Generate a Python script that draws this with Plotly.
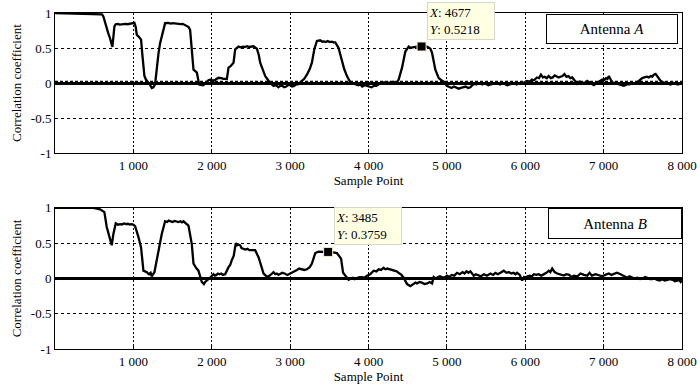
import plotly.graph_objects as go
from plotly.subplots import make_subplots

# ---- data ----
antenna_a = [(0,1.00),(490,0.99),(540,0.98),(600,0.98),(617,0.95),(640,0.86),(660,0.76),(680,0.71),(702,0.64),(720,0.58),(732,0.515),(745,0.66),(758,0.81),(775,0.84),(800,0.845),(825,0.835),(850,0.84),(875,0.85),(900,0.845),(925,0.84),(950,0.845),(979,0.85),(1013,0.86),(1030,0.80),(1043,0.69),(1070,0.66),(1098,0.62),(1115,0.40),(1141,0.10),(1160,0.05),(1192,0.01),(1215,-0.03),(1235,-0.07),(1255,-0.06),(1277,-0.02),(1299,0.24),(1320,0.42),(1341,0.57),(1371,0.71),(1405,0.855),(1450,0.86),(1475,0.85),(1500,0.855),(1533,0.85),(1555,0.845),(1580,0.85),(1605,0.84),(1630,0.845),(1660,0.83),(1682,0.82),(1705,0.80),(1724,0.76),(1746,0.48),(1767,0.19),(1790,0.17),(1810,0.15),(1839,-0.02),(1865,-0.03),(1890,-0.03),(1925,0.00),(1958,0.04),(1990,0.05),(2022,0.03),(2050,0.05),(2086,0.075),(2120,0.07),(2150,0.06),(2193,0.06),(2214,0.22),(2240,0.24),(2278,0.29),(2299,0.48),(2342,0.52),(2370,0.51),(2400,0.52),(2425,0.515),(2450,0.525),(2475,0.515),(2500,0.52),(2533,0.525),(2576,0.49),(2600,0.40),(2618,0.29),(2650,0.20),(2682,0.10),(2720,0.04),(2746,0.00),(2788,-0.04),(2820,-0.03),(2850,-0.06),(2875,-0.04),(2900,-0.04),(2925,-0.06),(2950,-0.05),(2975,-0.03),(3000,-0.03),(3025,-0.05),(3050,-0.04),(3075,-0.02),(3100,-0.02),(3150,0.03),(3180,0.06),(3214,0.12),(3250,0.20),(3278,0.29),(3308,0.48),(3342,0.60),(3384,0.61),(3410,0.59),(3430,0.595),(3455,0.585),(3480,0.60),(3505,0.585),(3530,0.59),(3555,0.58),(3576,0.58),(3618,0.50),(3661,0.31),(3690,0.20),(3725,0.10),(3768,0.01),(3795,0.00),(3820,-0.01),(3845,-0.02),(3870,-0.03),(3895,-0.02),(3920,-0.05),(3950,-0.03),(3980,-0.04),(4010,-0.05),(4040,-0.06),(4070,-0.04),(4100,-0.04),(4125,-0.02),(4150,0.00),(4175,-0.01),(4200,0.01),(4230,0.00),(4260,0.00),(4290,0.01),(4320,0.02),(4345,0.00),(4365,0.01),(4385,0.05),(4428,0.22),(4470,0.45),(4513,0.52),(4540,0.50),(4560,0.51),(4590,0.52),(4620,0.52),(4677,0.5218),(4715,0.515),(4747,0.52),(4790,0.49),(4811,0.43),(4853,0.19),(4896,0.07),(4930,0.04),(4959,0.02),(5000,-0.04),(5030,-0.05),(5060,-0.07),(5090,-0.05),(5120,-0.06),(5150,-0.08),(5180,-0.07),(5210,-0.06),(5240,-0.05),(5270,-0.07),(5300,-0.06),(5325,-0.03),(5350,-0.01),(5375,-0.02),(5400,0.00),(5425,-0.01),(5450,-0.02),(5475,0.00),(5500,-0.01),(5530,-0.03),(5560,-0.02),(5590,-0.01),(5620,0.00),(5650,-0.01),(5680,-0.02),(5710,0.00),(5740,-0.01),(5770,-0.03),(5800,-0.02),(5830,-0.01),(5860,0.00),(5890,-0.02),(5920,-0.01),(5950,0.01),(5980,0.00),(6020,0.03),(6060,0.02),(6085,0.05),(6110,0.04),(6130,0.06),(6150,0.08),(6175,0.07),(6200,0.12),(6225,0.08),(6250,0.09),(6275,0.07),(6300,0.10),(6325,0.07),(6350,0.08),(6375,0.11),(6400,0.10),(6425,0.08),(6450,0.09),(6475,0.10),(6500,0.13),(6525,0.09),(6550,0.10),(6575,0.07),(6600,0.08),(6640,0.03),(6662,-0.01),(6690,0.02),(6720,0.01),(6755,0.00),(6790,0.03),(6815,0.01),(6840,-0.01),(6875,-0.03),(6900,-0.01),(6930,0.01),(6955,0.03),(6982,0.05),(7005,0.04),(7030,0.07),(7050,0.06),(7067,0.10),(7090,0.05),(7110,0.01),(7145,0.00),(7180,-0.01),(7220,-0.02),(7258,-0.04),(7295,-0.02),(7330,-0.02),(7370,0.00),(7407,0.00),(7450,0.03),(7470,0.05),(7492,0.07),(7520,0.08),(7550,0.09),(7575,0.08),(7599,0.10),(7620,0.09),(7640,0.12),(7663,0.13),(7680,0.10),(7700,0.08),(7727,0.03),(7760,0.01),(7790,0.00),(7820,-0.01),(7855,-0.02),(7890,0.00),(7920,-0.01),(7950,-0.02),(7983,0.00),(8000,-0.01)]

antenna_b = [(0,1.00),(490,1.00),(575,0.98),(630,0.94),(660,0.73),(694,0.61),(724,0.47),(745,0.63),(775,0.78),(805,0.76),(830,0.77),(855,0.765),(880,0.78),(905,0.77),(930,0.775),(955,0.765),(979,0.77),(1000,0.76),(1022,0.74),(1064,0.59),(1098,0.44),(1128,0.11),(1150,0.10),(1171,0.09),(1185,0.07),(1200,0.06),(1220,0.08),(1235,0.03),(1269,0.09),(1300,0.28),(1320,0.40),(1362,0.63),(1405,0.81),(1430,0.80),(1450,0.82),(1475,0.81),(1500,0.80),(1525,0.815),(1550,0.81),(1575,0.80),(1600,0.81),(1620,0.795),(1639,0.81),(1670,0.78),(1703,0.75),(1745,0.49),(1767,0.21),(1800,0.15),(1830,0.11),(1873,-0.05),(1900,-0.08),(1916,-0.05),(1950,-0.02),(1979,0.01),(2022,0.06),(2040,0.04),(2060,0.05),(2080,0.07),(2100,0.06),(2120,0.07),(2140,0.05),(2171,0.06),(2214,0.16),(2235,0.19),(2256,0.26),(2280,0.32),(2307,0.50),(2325,0.47),(2340,0.48),(2363,0.47),(2380,0.43),(2400,0.42),(2427,0.41),(2455,0.42),(2480,0.40),(2520,0.40),(2554,0.40),(2597,0.30),(2630,0.18),(2661,0.07),(2700,0.03),(2724,0.03),(2760,0.06),(2788,0.09),(2810,0.06),(2830,0.07),(2850,0.05),(2873,0.06),(2900,0.08),(2930,0.07),(2965,0.05),(3001,0.07),(3044,0.09),(3065,0.11),(3087,0.12),(3115,0.14),(3150,0.13),(3180,0.12),(3214,0.13),(3250,0.16),(3278,0.21),(3321,0.36),(3363,0.38),(3420,0.38),(3485,0.3759),(3550,0.37),(3597,0.36),(3650,0.28),(3676,0.08),(3710,0.03),(3746,-0.02),(3775,0.00),(3800,0.01),(3825,-0.01),(3853,0.00),(3885,0.02),(3920,0.02),(3950,0.01),(3981,0.04),(4020,0.06),(4066,0.11),(4100,0.10),(4130,0.13),(4160,0.12),(4193,0.15),(4215,0.13),(4240,0.14),(4278,0.13),(4305,0.12),(4330,0.11),(4360,0.10),(4385,0.08),(4420,0.05),(4449,0.01),(4492,-0.08),(4534,-0.11),(4555,-0.09),(4580,-0.08),(4600,-0.06),(4619,-0.07),(4650,-0.05),(4680,-0.06),(4715,-0.08),(4750,-0.07),(4780,-0.05),(4811,-0.07),(4832,0.02),(4855,0.00),(4880,0.01),(4910,0.03),(4938,0.02),(4970,0.01),(5002,0.04),(5030,0.02),(5060,0.05),(5095,0.04),(5130,0.08),(5165,0.06),(5200,0.09),(5225,0.07),(5250,0.10),(5275,0.08),(5300,0.10),(5320,0.07),(5343,0.04),(5370,0.06),(5400,0.05),(5435,0.03),(5470,0.06),(5510,0.04),(5556,0.07),(5590,0.05),(5620,0.08),(5650,0.06),(5683,0.08),(5705,0.10),(5726,0.11),(5760,0.08),(5790,0.09),(5820,0.07),(5850,0.08),(5875,0.06),(5896,0.08),(5930,0.05),(5960,-0.03),(5985,0.02),(6003,0.01),(6030,0.03),(6060,0.04),(6085,0.03),(6110,0.06),(6140,0.05),(6170,0.06),(6205,0.04),(6238,0.06),(6270,0.08),(6300,0.11),(6320,0.09),(6344,0.14),(6375,0.09),(6408,0.07),(6450,0.05),(6493,0.04),(6525,0.06),(6560,0.05),(6590,0.02),(6621,0.04),(6665,0.03),(6706,0.07),(6750,0.05),(6791,0.04),(6820,0.08),(6850,0.04),(6897,0.06),(6940,0.04),(6982,0.03),(7020,0.05),(7067,0.07),(7100,0.05),(7131,0.06),(7170,0.08),(7216,0.06),(7260,0.04),(7301,0.01),(7330,0.03),(7360,0.02),(7395,0.00),(7429,0.01),(7465,-0.01),(7500,0.00),(7530,0.02),(7556,0.01),(7590,-0.01),(7620,-0.01),(7650,0.00),(7684,-0.02),(7715,-0.03),(7750,-0.01),(7780,-0.03),(7812,-0.02),(7845,-0.01),(7880,-0.02),(7910,-0.04),(7939,-0.03),(7965,-0.02),(7983,-0.05),(8000,-0.03)]

marker_a = (4677, 0.5218)
marker_b = (3485, 0.3759)
x_ticks = [1000, 2000, 3000, 4000, 5000, 6000, 7000, 8000]
x_tick_labels = ["1 000", "2 000", "3 000", "4 000", "5 000", "6 000", "7 000", "8 000"]
y_ticks = [-1, -0.5, 0, 0.5, 1]
y_tick_labels = ["-1", "-0.5", "0", "0.5", "1"]
panel_labels = ["Antenna <i>A</i>", "Antenna <i>B</i>"]

FONT = "Liberation Serif"

fig = make_subplots(rows=2, cols=1, vertical_spacing=0.163)

for row, (series, mk) in enumerate([(antenna_a, marker_a), (antenna_b, marker_b)], start=1):
    xs = [p[0] for p in series]
    ys = [p[1] for p in series]
    fig.add_trace(go.Scatter(x=xs, y=ys, mode="lines",
                             line=dict(color="black", width=2.3), showlegend=False),
                  row=row, col=1)
    fig.add_trace(go.Scatter(x=[mk[0]], y=[mk[1]], mode="markers",
                             marker=dict(symbol="square", size=9, color="black",
                                         line=dict(color="#f4f0c8", width=1)),
                             showlegend=False), row=row, col=1)

fig.update_layout(
    width=700, height=388,
    margin=dict(l=55, r=18, t=13, b=39),
    paper_bgcolor="white", plot_bgcolor="white",
    font=dict(family=FONT, size=13, color="black"),
    showlegend=False,
)
fig.update_yaxes(domain=[0.583, 1.0], row=1, col=1)
fig.update_yaxes(domain=[0.0, 0.42], row=2, col=1)

fig.update_xaxes(range=[0, 8000], tickvals=x_ticks, ticktext=x_tick_labels,
                 showgrid=True, gridcolor="black", gridwidth=1, griddash="2px,2px",
                 showline=True, mirror=True, linecolor="black", linewidth=1,
                 ticks="inside", ticklen=3, tickcolor="black", zeroline=False,
                 automargin=False,
                 tickfont=dict(size=13, family=FONT),
                 title=dict(text="Sample Point", font=dict(size=13, family=FONT), standoff=2))
fig.update_yaxes(range=[-1, 1], tickvals=y_ticks, ticktext=y_tick_labels,
                 showgrid=True, gridcolor="black", gridwidth=1, griddash="3px,3px",
                 showline=True, mirror=True, linecolor="black", linewidth=1,
                 ticks="inside", ticklen=3, tickcolor="black",
                 zeroline=True, zerolinecolor="black", zerolinewidth=2.5,
                 automargin=False,
                 tickfont=dict(size=13, family=FONT),
                 title=dict(text="Correlation coefficient", font=dict(size=13, family=FONT), standoff=6))

# dashed reference line just above zero in the top panel
fig.add_shape(type="line", xref="x domain", yref="y", x0=0, x1=1, y0=0.025, y1=0.025,
              line=dict(color="black", width=1.2, dash="3px,2px"))

# panel labels
fig.add_annotation(xref="x domain", yref="y domain", x=0.994, y=0.993,
                   xanchor="right", yanchor="top", text=panel_labels[0], showarrow=False,
                   width=130, height=28, bgcolor="white", bordercolor="black",
                   borderwidth=1, borderpad=0, font=dict(size=15, family=FONT))
fig.add_annotation(xref="x2 domain", yref="y2 domain", x=1.0, y=1.0,
                   xanchor="right", yanchor="top", text=panel_labels[1], showarrow=False,
                   width=132, height=29, bgcolor="white", bordercolor="black",
                   borderwidth=1, borderpad=0, font=dict(size=15, family=FONT))

# data tips
for mk, xp, yp in [(marker_a, 0.5933, 1.033), (marker_b, 0.445, 0.4235)]:
    fig.add_annotation(xref="paper", yref="paper", x=xp, y=yp, xanchor="left", yanchor="top",
                       text=f"<i>X</i>: {mk[0]}<br><i>Y</i>: {mk[1]:.4f}", showarrow=False,
                       align="left", width=64, height=34, bgcolor="#ffffe3",
                       bordercolor="#d8d8c8", borderwidth=1, borderpad=1,
                       font=dict(size=13, family=FONT))

fig.write_html("out.html", config={"displayModeBar": False},
               post_script="document.body.style.margin='0';")
